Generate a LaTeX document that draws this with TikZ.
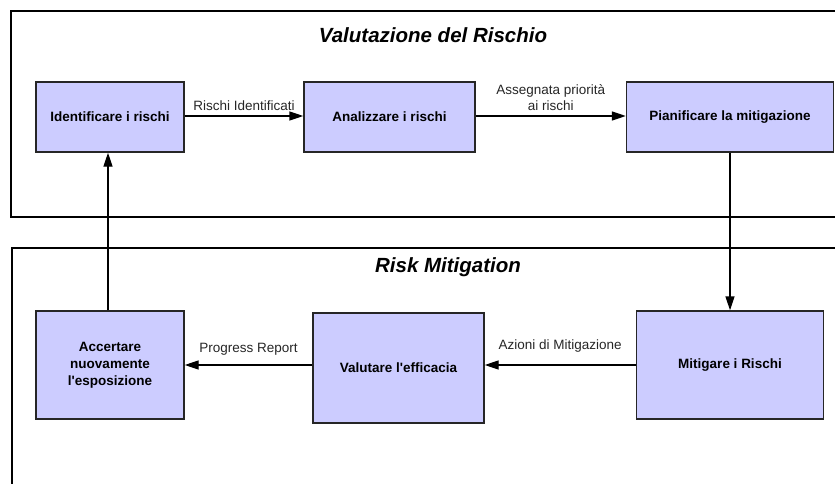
\documentclass[tikz,border=0pt]{standalone}
\usepackage{fontspec}
\setmainfont{Liberation Sans}
\usetikzlibrary{arrows.meta}
\definecolor{boxfill}{RGB}{204,204,255}
\tikzset{
	stepbox/.style={draw=black!85,line width=1.4pt,fill=boxfill,align=center,
		font=\fontsize{13.5}{17}\selectfont\bfseries,inner sep=0pt},
	flow/.style={line width=1.4pt,-{Triangle[length=14pt,width=9pt]}},
	lbl/.style={font=\fontsize{13.5}{16}\selectfont,align=center,text=black!85},
	title/.style={font=\fontsize{20.5}{24}\selectfont\bfseries\itshape}
}
\begin{document}
\begin{tikzpicture}[x=1pt,y=-1pt]
		\useasboundingbox (0,0) rectangle (835,484);
		% frames
		\draw[line width=1.8pt] (836,11) -- (11,11) -- (11,217) -- (836,217);
		\draw[line width=1.8pt] (836,248) -- (12,248) -- (12,485);
		\node[title] (valtitle) at (433,35) {Valutazione del Rischio};
		\node[title] (mittitle) at (448,267) {Risk Mitigation};
		% upper row
		\node[stepbox,minimum width=148pt,minimum height=70pt] (ident) at (110,117) {Identificare i rischi};
		\node[stepbox,minimum width=171pt,minimum height=70pt] (anal) at (389.5,117) {Analizzare i rischi};
		\node[stepbox,minimum width=207pt,minimum height=70pt] (pian) at (730,117) {Pianificare la mitigazione};
		% lower row
		\node[stepbox,minimum width=148pt,minimum height=108pt] (acc) at (110,365) {Accertare\\nuovamente\\l\textquotesingle esposizione};
		\node[stepbox,minimum width=171pt,minimum height=110pt] (valu) at (398.5,368) {Valutare l\textquotesingle efficacia};
		\node[stepbox,minimum width=187pt,minimum height=108pt] (miti) at (730,365) {Mitigare i Rischi};
		% connectors
		\draw[flow] (ident.east |- 0,116) -- node[lbl,above=1pt] (l1) {Rischi Identificati} (anal.west |- 0,116);
		\draw[flow] (anal.east |- 0,116) -- node[lbl,above=1pt] (l2) {Assegnata priorità\\ai rischi} (pian.west |- 0,116);
		\draw[flow] (pian.south) -- (miti.north);
		\draw[flow] (miti.west |- 0,365) -- node[lbl,above=9pt] (l3) {Azioni di Mitigazione} (valu.east |- 0,365);
		\draw[flow] (valu.west |- 0,365) -- node[lbl,above=6pt] (l4) {Progress Report} (acc.east |- 0,365);
		\draw[flow] (acc.north -| 108,0) -- (ident.south -| 108,0);
	\end{tikzpicture}
\end{document}
